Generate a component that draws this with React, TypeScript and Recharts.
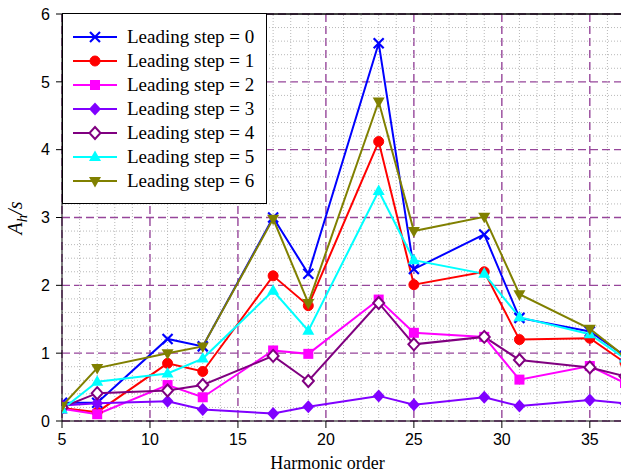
import { LineChart, Line, XAxis, YAxis, CartesianGrid, ReferenceLine } from 'recharts';

const harmonics = [5, 7, 11, 13, 17, 19, 23, 25, 29, 31, 35, 37];

const step0 = [0.27, 0.27, 1.21, 1.1, 3.0, 2.17, 5.57, 2.24, 2.75, 1.52, 1.32, 0.96];
const step1 = [0.19, 0.13, 0.85, 0.73, 2.14, 1.7, 4.12, 2.01, 2.2, 1.2, 1.22, 0.86];
const step2 = [0.18, 0.1, 0.53, 0.35, 1.04, 0.99, 1.79, 1.3, 1.24, 0.61, 0.81, 0.56];
const step3 = [0.23, 0.26, 0.29, 0.17, 0.11, 0.21, 0.37, 0.24, 0.35, 0.22, 0.31, 0.26];
const step4 = [0.2, 0.41, 0.45, 0.53, 0.96, 0.59, 1.74, 1.13, 1.24, 0.9, 0.79, 0.66];
const step5 = [0.17, 0.58, 0.7, 0.92, 1.92, 1.33, 3.39, 2.37, 2.17, 1.53, 1.28, 0.92];
const step6 = [0.22, 0.78, 1.0, 1.1, 2.98, 1.74, 4.71, 2.8, 3.01, 1.87, 1.36, 0.95];

const xTicks = [5, 10, 15, 20, 25, 30, 35];
const yTicks = [0, 1, 2, 3, 4, 5, 6];

const seriesNames = [
  'Leading step = 0',
  'Leading step = 1',
  'Leading step = 2',
  'Leading step = 3',
  'Leading step = 4',
  'Leading step = 5',
  'Leading step = 6',
];
const seriesValues = [step0, step1, step2, step3, step4, step5, step6];

const colors = ['#0000ff', '#ff0000', '#ff00ff', '#8000ff', '#800080', '#00ffff', '#808000'];
const shapes = ['cross', 'circle', 'square', 'diamond', 'openDiamond', 'triUp', 'triDown'];

const data = harmonics.map((h, i) => {
  const row: Record<string, number> = { h };
  seriesValues.forEach((vals, s) => {
    row['s' + s] = vals[i];
  });
  return row;
});

// minor grid positions (every 1 in x, every 0.2 in y, skipping major lines)
const minorX: number[] = [];
for (let v = 6; v <= 37; v++) if (v % 5 !== 0) minorX.push(v);
const minorY: number[] = [];
for (let k = 1; k < 30; k++) if (k % 5 !== 0) minorY.push(k / 5);

const serif = '"Liberation Serif", "Times New Roman", serif';
const sans = '"Liberation Sans", Arial, sans-serif';

function Marker({ shape, cx, cy, color }: { shape: string; cx: number; cy: number; color: string }) {
  if (cx == null || cy == null) return null;
  switch (shape) {
    case 'cross':
      return (
        <g stroke={color} strokeWidth={2.2}>
          <line x1={cx - 5} y1={cy - 5} x2={cx + 5} y2={cy + 5} />
          <line x1={cx - 5} y1={cy + 5} x2={cx + 5} y2={cy - 5} />
        </g>
      );
    case 'circle':
      return <circle cx={cx} cy={cy} r={5} fill={color} stroke={color} />;
    case 'square':
      return <rect x={cx - 5} y={cy - 5} width={10} height={10} fill={color} />;
    case 'diamond':
      return <polygon points={`${cx},${cy - 6.5} ${cx + 6},${cy} ${cx},${cy + 6.5} ${cx - 6},${cy}`} fill={color} />;
    case 'openDiamond':
      return (
        <polygon
          points={`${cx},${cy - 6} ${cx + 5.5},${cy} ${cx},${cy + 6} ${cx - 5.5},${cy}`}
          fill="#ffffff"
          stroke={color}
          strokeWidth={2}
        />
      );
    case 'triUp':
      return <polygon points={`${cx},${cy - 6.5} ${cx + 6},${cy + 4} ${cx - 6},${cy + 4}`} fill={color} />;
    case 'triDown':
      return <polygon points={`${cx},${cy + 6.5} ${cx + 6},${cy - 4} ${cx - 6},${cy - 4}`} fill={color} />;
    default:
      return null;
  }
}

const LegendBox = () => (
  <svg width={205} height={191} style={{ display: 'block', position: 'absolute', left: 62, top: 13 }}>
    <rect x={0.5} y={0.5} width={204} height={190} fill="#ffffff" stroke="#000000" strokeWidth={1} />
    {seriesNames.map((name, i) => {
      const y = 24 + i * 24;
      return (
        <g key={name}>
          <line x1={11} y1={y} x2={55} y2={y} stroke={colors[i]} strokeWidth={2} />
          <Marker shape={shapes[i]} cx={33} cy={y} color={colors[i]} />
          <text x={65} y={y + 6} fontFamily={serif} fontSize={19} fill="#000">
            {name}
          </text>
        </g>
      );
    })}
  </svg>
);

const YLabel = () => (
  <text transform="rotate(-90, 22, 218)" x={22} y={218} textAnchor="middle" fontFamily={serif} fontSize={20} fontStyle="italic" fill="#000">
    <tspan>A</tspan>
    <tspan fontSize={15} dy={5}>h</tspan>
    <tspan dy={-5}>/s</tspan>
  </text>
);

const App = () => {
  return (
    <div style={{ position: 'absolute', left: 0, top: 0, width: 621, height: 476, overflow: 'hidden', background: '#fff' }}>
      <LineChart width={630} height={476} data={data} margin={{ top: 14, right: 5, bottom: 25, left: 0 }}>
        {minorX.map((v) => (
          <ReferenceLine key={'mx' + v} x={v} stroke="#b8b8b8" strokeDasharray="1 2" />
        ))}
        {minorY.map((v) => (
          <ReferenceLine key={'my' + v} y={v} stroke="#b8b8b8" strokeDasharray="1 2" />
        ))}
        <CartesianGrid stroke="#96469a" strokeWidth={1.4} strokeDasharray="8 4" />
        <ReferenceLine y={6} stroke="#000" strokeWidth={1.5} />
        <XAxis
          dataKey="h"
          type="number"
          domain={[5, 37]}
          ticks={xTicks}
          allowDataOverflow
          height={30}
          stroke="#000"
          tickSize={7}
          tickMargin={6}
          tick={{ fill: '#000', fontFamily: sans, fontSize: 16 }}
          label={{ value: 'Harmonic order', position: 'insideBottom', offset: -18, dx: -16, fill: '#000', fontFamily: serif, fontSize: 18 }}
        />
        <YAxis
          type="number"
          domain={[0, 6]}
          ticks={yTicks}
          width={62}
          stroke="#000"
          tickSize={6}
          tickMargin={6}
          tick={{ fill: '#000', fontFamily: sans, fontSize: 16 }}
          label={<YLabel />}
        />
        {seriesNames.map((name, s) => (
          <Line
            key={name}
            name={name}
            dataKey={'s' + s}
            stroke={colors[s]}
            strokeWidth={2}
            isAnimationActive={false}
            dot={(p: any) => <Marker key={'d' + s + '-' + p.index} shape={shapes[s]} cx={p.cx} cy={p.cy} color={colors[s]} />}
            activeDot={false}
          />
        ))}
      </LineChart>
      <LegendBox />
    </div>
  );
};

export default App;
